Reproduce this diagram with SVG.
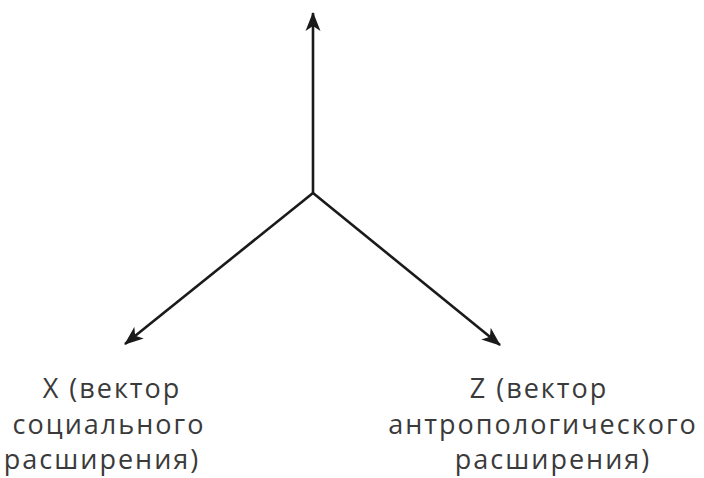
<svg xmlns="http://www.w3.org/2000/svg" width="704" height="478" viewBox="0 0 704 478">
<style>
.ax{stroke:#1a1a1a;stroke-width:2.6;fill:none}
.lb{font-family:"Open Sans","DejaVu Sans",sans-serif;font-size:27px;fill:#3a3a3a;text-anchor:middle;letter-spacing:2px}
</style>
<defs>
<marker id="ah" viewBox="0 0 20 16" refX="18" refY="8" markerWidth="20" markerHeight="16" markerUnits="userSpaceOnUse" orient="auto">
<path d="M0,0.5 L19,8 L0,15.5 L5,8 Z" fill="#1a1a1a"/>
</marker>
</defs>
<rect width="704" height="478" fill="#fff"/>
<g id="connectors">
<line class="ax" x1="313" y1="193" x2="313" y2="13" marker-end="url(#ah)"/>
<line class="ax" x1="313" y1="193" x2="125" y2="344" marker-end="url(#ah)"/>
<line class="ax" x1="313" y1="193" x2="500" y2="345" marker-end="url(#ah)"/>
</g>
<g id="label-x">
<text class="lb" x="112" y="398">X (вектор</text>
<text class="lb" x="109" y="434">социального</text>
<text class="lb" x="102" y="469">расширения)</text>
</g>
<g id="label-z">
<text class="lb" x="539" y="398">Z (вектор</text>
<text class="lb" x="543" y="434">антропологического</text>
<text class="lb" x="553" y="469">расширения)</text>
</g>
</svg>
